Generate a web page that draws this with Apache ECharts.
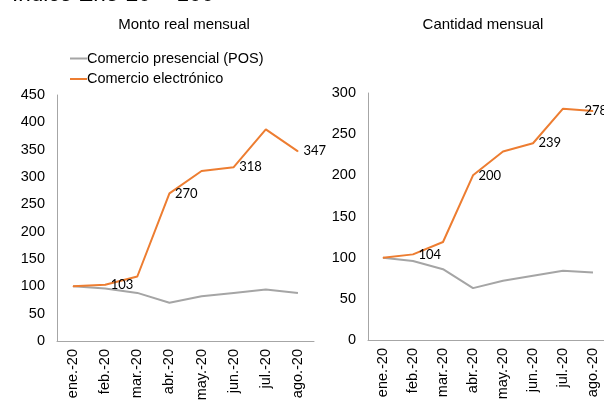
<!DOCTYPE html>
<html>
<head>
<meta charset="utf-8">
<script src="https://cdn.jsdelivr.net/npm/echarts@6/dist/echarts.min.js"></script>
<style>
  html, body { margin: 0; padding: 0; background: #fff; }
  #chart { width: 604px; height: 400px; }
</style>
</head>
<body>
<div id="chart"></div>
<script>
  // categorias (meses)
  var months = ['ene.-20', 'feb.-20', 'mar.-20', 'abr.-20', 'may.-20', 'jun.-20', 'jul.-20', 'ago.-20'];

  // Monto real mensual
  var montoPOS = [100, 96, 88, 70, 82, 88, 94, 88];
  var montoElec = [100, 103, 118, 270, 311, 318, 387, 347];

  // Cantidad mensual
  var cantPOS = [100, 96, 86, 63, 72, 78, 84, 82];
  var cantElec = [100, 104, 119, 200, 229, 239, 281, 278];

  // meses con etiqueta de dato
  var labelIdx = [1, 3, 5, 7];

  var serieNames = ['Comercio presencial (POS)', 'Comercio electrónico'];
  var gray = '#a5a5a5';
  var orange = '#ed7d31';
  var axisColor = '#a6a6a6';
  var font = 'Liberation Sans';

  function withLabels(values, lastOffset) {
    return values.map(function (v, i) {
      if (labelIdx.indexOf(i) < 0) return v;
      var item = {value: v, label: {show: true}};
      if (i === values.length - 1 && lastOffset) item.label.offset = lastOffset;
      return item;
    });
  }

  function xAxis(grid) {
    return {
      type: 'category',
      gridIndex: grid,
      data: months,
      boundaryGap: true,
      axisLine: {lineStyle: {color: axisColor}},
      axisTick: {length: 4, lineStyle: {color: axisColor}},
      axisLabel: {rotate: 90, margin: 8, color: '#000', fontSize: 14.5, fontFamily: font}
    };
  }

  function yAxis(grid, max) {
    return {
      type: 'value',
      gridIndex: grid,
      min: 0,
      max: max,
      interval: 50,
      splitLine: {show: false},
      axisLine: {show: true, lineStyle: {color: axisColor}},
      axisTick: {show: false},
      axisLabel: {margin: 12, color: '#000', fontSize: 14.5, fontFamily: font}
    };
  }

  var labelStyle = {
    position: 'right',
    distance: 5,
    color: '#000',
    fontSize: 13,
    fontFamily: 'Lato'
  };

  var myChart = echarts.init(document.getElementById('chart'));
  myChart.setOption({
    animation: false,
    title: [
      {text: 'Monto real mensual', left: 179, top: 12, textAlign: 'center',
        textStyle: {fontSize: 15, fontWeight: 'normal', color: '#000', fontFamily: font}},
      {text: 'Cantidad mensual', left: 478, top: 12, textAlign: 'center',
        textStyle: {fontSize: 15, fontWeight: 'normal', color: '#000', fontFamily: font}}
    ],
    graphic: [{
      type: 'text',
      left: 12,
      top: -17,
      style: {text: 'Índice Ene-20 = 100', fontSize: 22.5, fill: '#000', fontFamily: font}
    }],
    legend: {
      data: serieNames,
      orient: 'vertical',
      left: 65,
      top: 46,
      itemGap: 5.5,
      itemWidth: 17,
      itemHeight: 2,
      icon: 'rect',
      textStyle: {fontSize: 14.5, color: '#000', fontFamily: font, padding: [0, 0, 0, -5]}
    },
    grid: [
      {left: 57, top: 95, width: 257, bottom: 59, outerBoundsMode: 'none'},
      {left: 368, top: 93, width: 240, bottom: 60, outerBoundsMode: 'none'}
    ],
    xAxis: [xAxis(0), xAxis(1)],
    yAxis: [yAxis(0, 450), yAxis(1, 300)],
    series: [
      {name: serieNames[0], type: 'line', xAxisIndex: 0, yAxisIndex: 0, data: montoPOS,
        showSymbol: false, lineStyle: {color: gray, width: 2}, itemStyle: {color: gray}},
      {name: serieNames[1], type: 'line', xAxisIndex: 0, yAxisIndex: 0, data: withLabels(montoElec),
        showSymbol: true, symbol: 'circle', symbolSize: 1, label: labelStyle,
        lineStyle: {color: orange, width: 2}, itemStyle: {color: orange}},
      {name: serieNames[0], type: 'line', xAxisIndex: 1, yAxisIndex: 1, data: cantPOS,
        showSymbol: false, lineStyle: {color: gray, width: 2}, itemStyle: {color: gray}},
      {name: serieNames[1], type: 'line', xAxisIndex: 1, yAxisIndex: 1, data: withLabels(cantElec, [-14, 0]),
        showSymbol: true, symbol: 'circle', symbolSize: 1, label: labelStyle,
        lineStyle: {color: orange, width: 2}, itemStyle: {color: orange}}
    ]
  });
</script>
</body>
</html>
